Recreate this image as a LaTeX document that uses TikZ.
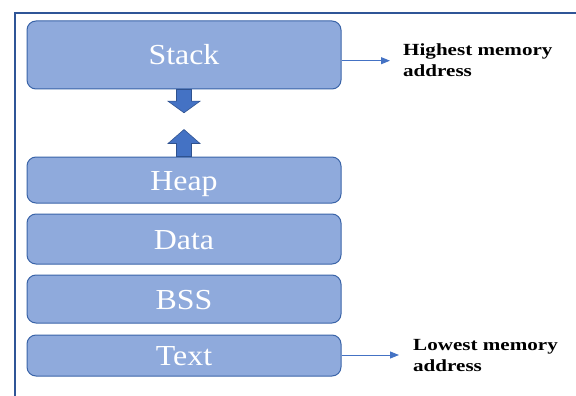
\documentclass[tikz,border=0pt]{standalone}
\usepackage{fontspec}
\setmainfont{Liberation Serif}
\usetikzlibrary{arrows.meta,calc}
\definecolor{boxfill}{HTML}{8FAADC}
\definecolor{boxline}{HTML}{3A64A8}
\definecolor{arrfill}{HTML}{4472C4}
\definecolor{arrline}{HTML}{2F528F}
\definecolor{frameblue}{HTML}{2F5597}
\tikzset{
  segbox/.style={draw=boxline, line width=1pt, fill=boxfill, rounded corners=9pt,
    minimum width=314pt, text=white, font=\fontsize{29}{32}\selectfont,
    text height=20pt, text depth=0pt, inner sep=0pt},
  blockarrow/.style={fill=arrfill, draw=arrline, line width=0.6pt},
  conn/.style={draw=arrfill, line width=0.9pt, -{Triangle[length=9pt,width=7pt]}},
  note/.style={anchor=base west, inner sep=0pt, font=\fontsize{17}{20.7}\selectfont\bfseries}
}
\begin{document}
\begin{tikzpicture}[x=1pt,y=-1pt]
\useasboundingbox (0,0) rectangle (576,396);
% frame
\draw[frameblue, line width=1.7pt] (14.7,396) -- (14.7,12.7) -- (576,12.7);
% segments
\node[segbox, minimum height=68pt] (stack) at (184,55) {\scalebox{1.1}[1]{Stack}};
\node[segbox, minimum height=46pt] (heap) at (184,180) {\scalebox{1.1}[1]{Heap}};
\node[segbox, minimum height=50pt] (data) at (184,239) {\scalebox{1.1}[1]{Data}};
\node[segbox, minimum height=48pt] (bss) at (184,299) {\scalebox{1.1}[1]{BSS}};
\node[segbox, minimum height=41pt] (text) at (184,355.5) {\scalebox{1.1}[1]{Text}};
% block arrows
\draw[blockarrow] ($(stack.south)+(-7.5,0)$) -- ++(0,11.7) -- ++(-8.5,0) -- ++(16,11.6)
  -- ++(16,-11.6) -- ++(-8.5,0) -- ++(0,-11.7) -- cycle;
\draw[blockarrow] ($(heap.north)+(-7.5,0)$) -- ++(0,-13) -- ++(-8.5,0) -- ++(16,-14)
  -- ++(16,14) -- ++(-8.5,0) -- ++(0,13) -- cycle;
% notes
\node[note] (hi) at (403,56) {\scalebox{1.24}[1]{\begin{tabular}[t]{@{}l@{}}Highest memory\\address\end{tabular}}};
\node[note] (lo) at (413,350.7) {\scalebox{1.24}[1]{\begin{tabular}[t]{@{}l@{}}Lowest memory\\address\end{tabular}}};
\coordinate (hiend) at (390,60.7);
\coordinate (loend) at (399,355);
\draw[conn] (stack.east |- hiend) -- (hiend);
\draw[conn] (text.east |- loend) -- (loend);
\end{tikzpicture}
\end{document}
